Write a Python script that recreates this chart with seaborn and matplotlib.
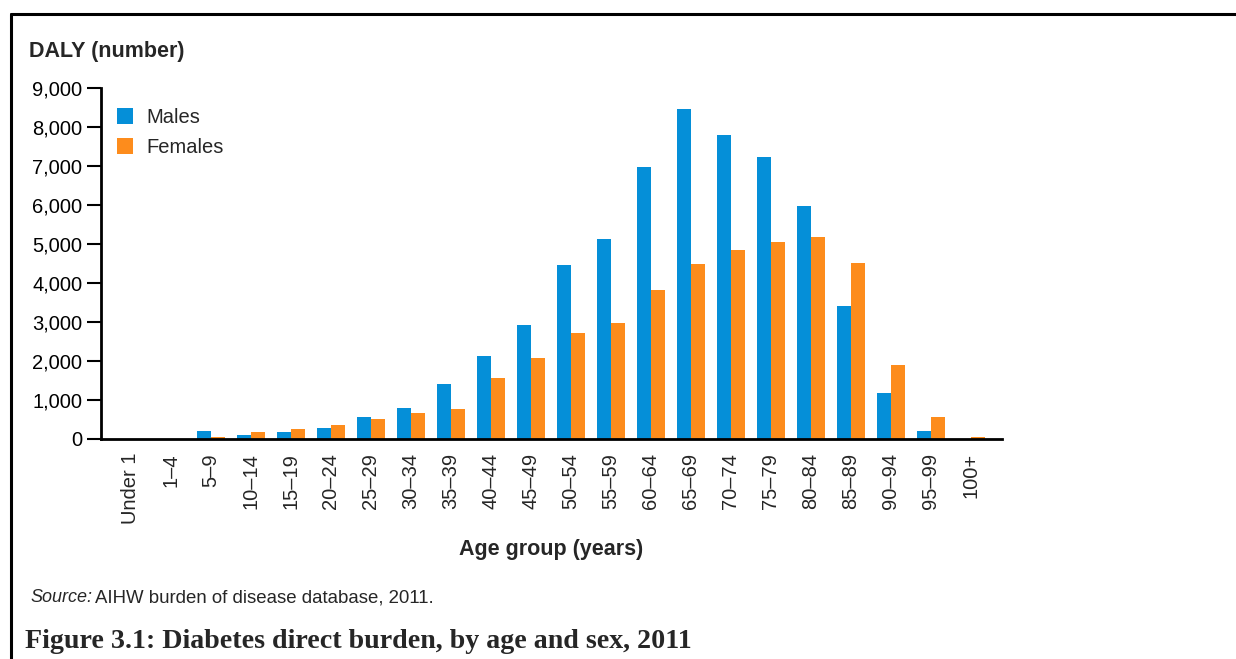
import matplotlib
matplotlib.use("Agg")
import matplotlib.pyplot as plt
import seaborn as sns
import pandas as pd
from matplotlib.lines import Line2D
from matplotlib.ticker import FuncFormatter

# Age groups and DALY values
age_groups = ["Under 1", "1\u20134", "5\u20139", "10\u201314", "15\u201319", "20\u201324",
              "25\u201329", "30\u201334", "35\u201339", "40\u201344", "45\u201349", "50\u201354",
              "55\u201359", "60\u201364", "65\u201369", "70\u201374", "75\u201379", "80\u201384",
              "85\u201389", "90\u201394", "95\u201399", "100+"]
males = [0, 0, 200, 100, 180, 280, 560, 790, 1410, 2130, 2920, 4460,
         5130, 6970, 8460, 7800, 7230, 5970, 3410, 1180, 200, 0]
females = [0, 0, 40, 180, 255, 360, 510, 665, 770, 1565, 2075, 2720,
           2970, 3820, 4490, 4845, 5050, 5180, 4510, 1895, 560, 60]
sexes = ["Males", "Females"]
colours = ["#058FD8", "#FD8C1C"]

df = pd.DataFrame({
    "age": age_groups * 2,
    "daly": males + females,
    "sex": [sexes[0]] * len(age_groups) + [sexes[1]] * len(age_groups),
})

sns.set_style("white")
plt.rcParams["font.family"] = ["Liberation Sans", "DejaVu Sans"]

fig = plt.figure(figsize=(12.36, 6.59), dpi=100)
ax = fig.add_axes([101 / 1236, 1 - 439 / 659, (1002 - 101) / 1236, (439 - 88) / 659])

sns.barplot(data=df, x="age", y="daly", hue="sex", palette=colours,
            width=0.7, saturation=1, ax=ax, linewidth=0)

ax.set_ylim(0, 9000)
ax.set_xlim(-0.75, 21.78)
ax.set_yticks(range(0, 9001, 1000))
ax.yaxis.set_major_formatter(FuncFormatter(lambda v, p: f"{int(v):,}"))
ax.tick_params(axis="y", direction="out", length=10, width=1.5, labelsize=14.5,
               colors="black", left=True)
ax.tick_params(axis="x", length=0, labelsize=14.5, rotation=90, pad=10)
ax.set_xlabel("")
ax.set_ylabel("")
for side in ["top", "right"]:
    ax.spines[side].set_visible(False)
for side in ["left", "bottom"]:
    ax.spines[side].set_linewidth(2)
    ax.spines[side].set_color("black")

leg = ax.legend(loc="upper left", bbox_to_anchor=(0.018, 0.943), frameon=False,
                borderaxespad=0, borderpad=0,
                fontsize=14.5, handlelength=0.8, handleheight=0.8,
                handletextpad=0.65, labelspacing=0.55)

fig.text(29 / 1236, 1 - 51 / 659, "DALY (number)", fontsize=15.5, fontweight="bold",
         ha="left", va="center")
fig.text(551 / 1236, 1 - 549 / 659, "Age group (years)", fontsize=15.5, fontweight="bold",
         ha="center", va="center")
fig.text(30 / 1236, 1 - 598 / 659, "Source:", fontsize=13, style="italic",
         ha="left", va="center")
fig.text(95 / 1236, 1 - 598 / 659, "AIHW burden of disease database, 2011.", fontsize=13.4,
         ha="left", va="center")
fig.text(25 / 1236, 1 - 641 / 659, "Figure 3.1: Diabetes direct burden, by age and sex, 2011",
         fontsize=20.2, fontweight="bold", family=["Liberation Serif", "DejaVu Serif"],
         ha="left", va="center")

# frame around the chart
fig.add_artist(Line2D([11 / 1236, 1.0], [1 - 14 / 659, 1 - 14 / 659], color="black", lw=2.2))
fig.add_artist(Line2D([11 / 1236, 11 / 1236], [1 - 14 / 659, 0.0], color="black", lw=2.2))

fig.savefig("out.png", dpi=100)
